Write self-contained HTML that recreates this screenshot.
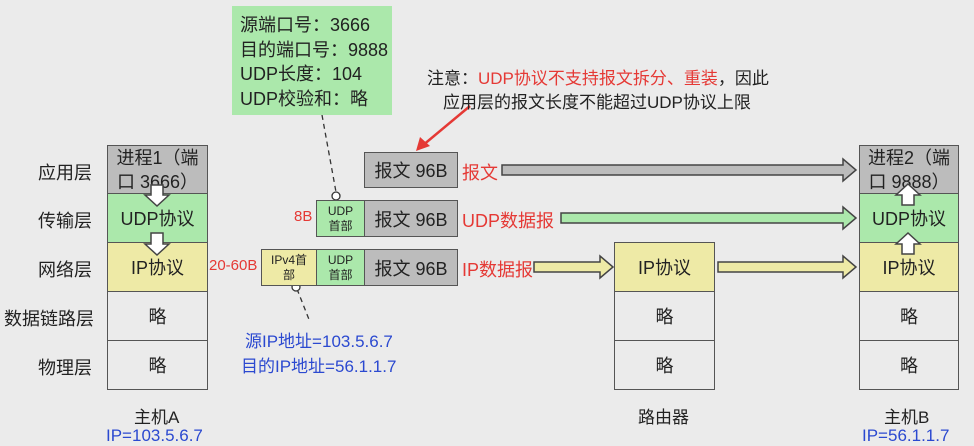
<!DOCTYPE html>
<html><head><meta charset="utf-8"><style>
body{margin:0;width:974px;height:446px;background:#ebebeb;position:relative;overflow:hidden;font-family:"Liberation Sans","Noto Sans CJK SC",sans-serif;}
.a{position:absolute;box-sizing:border-box;}
.b{border:1.5px solid #555;display:flex;align-items:center;justify-content:center;text-align:center;font-size:18px;color:#222;}
.t{position:absolute;white-space:nowrap;font-size:18px;color:#222;}
.g{background:#bcbcbc}.gr{background:#abe8ab}.y{background:#eeeaa6}.w{background:#ebebeb}
.red{color:#e53935}.blue{color:#2b49d0}
</style></head><body>
<svg class="a" style="left:0;top:0" width="974" height="446">
<g stroke="#444" stroke-width="1.5">
<polygon points="502,165 843,165 843,159 856,170 843,181 843,175 502,175" fill="#bcbcbc"/>
<polygon points="561,213 843,213 843,207 856,218 843,229 843,223 561,223" fill="#abe8ab"/>
<polygon points="534,262 600,262 600,256 613,267 600,278 600,272 534,272" fill="#eeeaa6"/>
<polygon points="718,262 843,262 843,256 856,267 843,278 843,272 718,272" fill="#eeeaa6"/>
</g>
<line x1="322" y1="115" x2="336" y2="192" stroke="#333" stroke-width="1.3" stroke-dasharray="5,4"/>
<circle cx="336" cy="196" r="4" fill="#fff" stroke="#333" stroke-width="1.3"/>
<line x1="297" y1="289" x2="310" y2="322" stroke="#333" stroke-width="1.3" stroke-dasharray="5,4"/>
<circle cx="296" cy="287" r="4" fill="#fff" stroke="#333" stroke-width="1.3"/>
<line x1="470" y1="106" x2="422" y2="146" stroke="#e53935" stroke-width="2.5"/>
<polygon points="416,151 420,137 430,146" fill="#e53935"/>
</svg>

<div class="a" style="left:232px;top:6px;width:160px;height:109px;background:#abe8ab;"></div>
<div class="t" style="left:240px;top:13px;line-height:24.5px;font-size:18px;">源端口号：3666<br>目的端口号：9888<br>UDP长度：104<br>UDP校验和：略</div>

<div class="t" style="left:427px;top:64px;font-size:17px;">注意：<span class="red">UDP协议不支持报文拆分、重装</span>，因此</div>
<div class="t" style="left:443px;top:88px;font-size:17px;">应用层的报文长度不能超过UDP协议上限</div>

<div class="t" style="left:38px;top:159px">应用层</div>
<div class="t" style="left:38px;top:207px">传输层</div>
<div class="t" style="left:38px;top:256px">网络层</div>
<div class="t" style="left:4px;top:305px">数据链路层</div>
<div class="t" style="left:38px;top:354px">物理层</div>

<div class="a b g" style="left:107px;top:145px;width:101px;height:50px;line-height:24px;">进程1（端<br>口 3666）</div>
<div class="a b gr" style="left:107px;top:193px;width:101px;height:50px;">UDP协议</div>
<div class="a b y" style="left:107px;top:242px;width:101px;height:50px;">IP协议</div>
<div class="a b w" style="left:107px;top:291px;width:101px;height:50px;">略</div>
<div class="a b w" style="left:107px;top:340px;width:101px;height:50px;">略</div>

<div class="a b y" style="left:614px;top:242px;width:101px;height:50px;">IP协议</div>
<div class="a b w" style="left:614px;top:291px;width:101px;height:50px;">略</div>
<div class="a b w" style="left:614px;top:340px;width:101px;height:50px;">略</div>

<div class="a b g" style="left:859px;top:145px;width:100px;height:50px;line-height:24px;">进程2（端<br>口 9888）</div>
<div class="a b gr" style="left:859px;top:193px;width:100px;height:50px;">UDP协议</div>
<div class="a b y" style="left:859px;top:242px;width:100px;height:50px;">IP协议</div>
<div class="a b w" style="left:859px;top:291px;width:100px;height:50px;">略</div>
<div class="a b w" style="left:859px;top:340px;width:100px;height:50px;">略</div>

<div class="a b g" style="left:364px;top:152px;width:94px;height:36px;">报文 96B</div>
<div class="a b gr" style="left:316px;top:200px;width:49px;height:37px;font-size:12px;line-height:15px;">UDP<br>首部</div>
<div class="a b g" style="left:364px;top:200px;width:94px;height:37px;">报文 96B</div>
<div class="a b y" style="left:261px;top:249px;width:56px;height:37px;font-size:12px;line-height:15px;">IPv4首<br>部</div>
<div class="a b gr" style="left:316px;top:249px;width:49px;height:37px;font-size:12px;line-height:15px;">UDP<br>首部</div>
<div class="a b g" style="left:364px;top:249px;width:94px;height:37px;">报文 96B</div>

<svg class="a" style="left:0;top:0" width="974" height="446">
<g stroke="#444" stroke-width="1.5" fill="#fff">
<polygon points="151,185 163,185 163,195 169,195 157,206 145,195 151,195"/>
<polygon points="151,233 163,233 163,244 169,244 157,255 145,244 151,244"/>
<polygon points="902,205 914,205 914,195 920,195 908,184 896,195 902,195"/>
<polygon points="902,254 914,254 914,244 920,244 908,233 896,244 902,244"/>
</g>
</svg>

<div class="t red" style="left:462px;top:159px">报文</div>
<div class="t red" style="left:462px;top:207px">UDP数据报</div>
<div class="t red" style="left:462px;top:256px">IP数据报</div>
<div class="t red" style="left:294px;top:208px;font-size:15px">8B</div>
<div class="t red" style="left:209px;top:257px;font-size:15px">20-60B</div>

<div class="t blue" style="left:245px;top:327px;font-size:17px">源IP地址=103.5.6.7</div>
<div class="t blue" style="left:241px;top:352px;font-size:17px">目的IP地址=56.1.1.7</div>

<div class="t" style="left:134px;top:403px;font-size:17px">主机A</div>
<div class="t blue" style="left:106px;top:426px;font-size:17px">IP=103.5.6.7</div>
<div class="t" style="left:638px;top:403px;font-size:17px">路由器</div>
<div class="t" style="left:884px;top:403px;font-size:17px">主机B</div>
<div class="t blue" style="left:862px;top:426px;font-size:17px">IP=56.1.1.7</div>
</body></html>
